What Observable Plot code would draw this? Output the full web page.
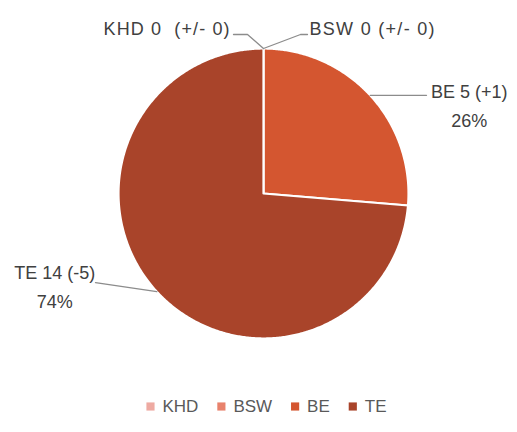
<!DOCTYPE html>
<html>
<head>
<meta charset="utf-8">
<script src="https://cdn.jsdelivr.net/npm/d3@7"></script>
<script src="https://cdn.jsdelivr.net/npm/@observablehq/plot@0.6"></script>
<style>
  html, body { margin: 0; padding: 0; background: #ffffff; }
  #chart svg { display: block; }
</style>
</head>
<body>
<div id="chart"></div>
<script>
// ---- data ----
const categories = ["KHD", "BSW", "BE", "TE"];
const values = [0, 0, 5, 14];
const changes = ["+/- 0", "+/- 0", "+1", "-5"];
const palette = ["#EEAAA2", "#E8826C", "#D45630", "#A9442A"];

// ---- layout ----
const W = 517, H = 432;
const cx = 263, cy = 193, R = 145;
const FONT = "Liberation Sans, Arial, Helvetica, sans-serif";

const total = d3.sum(values);
const pie = d3.pie().sort(null).value(d => d.value);
const rows = categories.map((c, i) => ({category: c, value: values[i], change: changes[i]}));
const arcs = pie(rows);

// slice outlines (polygon points along arc), computed from the pie angles
const slicePts = [];
arcs.forEach(a => {
  const c = a.data.category;
  slicePts.push({category: c, x: cx, y: cy});
  const n = Math.max(1, Math.ceil((a.endAngle - a.startAngle) / (Math.PI / 360)));
  for (let k = 0; k <= n; k++) {
    const t = a.startAngle + (a.endAngle - a.startAngle) * k / n;
    slicePts.push({category: c, x: cx + R * Math.sin(t), y: cy - R * Math.cos(t)});
  }
  slicePts.push({category: c, x: cx, y: cy});
});

// label text
function labelText(d) {
  return d.category + " " + d.value + (d.category === "KHD" ? "  " : " ") + "(" + d.change + ")";
}
function pct(d) { return Math.round(d.value / total * 100) + "%"; }

// label placement: leader lines start at slice mid-angle on the rim
const labelLayout = {
  KHD: {elbow: [-16, -14], end: [-30, -14], anchor: "end", tx: -34, ty: -19, len: 126},
  BSW: {elbow: [37, -14], end: [44, -14], anchor: "start", tx: 46, ty: -19, len: 125},
  BE:  {elbow: null, endX: 426, anchor: "middle", tx: 99, ty: -3},
  TE:  {elbow: null, endX: 95, endDy: -9, anchor: "middle", tx: -102, ty: -18}
};
const leaderPts = [], labels = [];
arcs.forEach(a => {
  const d = a.data;
  const mid = (a.startAngle + a.endAngle) / 2;
  const px = cx + R * Math.sin(mid), py = cy - R * Math.cos(mid);
  const L = labelLayout[d.category];
  leaderPts.push({category: d.category, x: px, y: py});
  let ex, ey;
  if (L.elbow) {
    leaderPts.push({category: d.category, x: px + L.elbow[0], y: py + L.elbow[1]});
    ex = px + L.end[0]; ey = py + L.end[1];
  } else {
    ex = L.endX; ey = py + (L.endDy || 0);
  }
  leaderPts.push({category: d.category, x: ex, y: ey});
  const lx = px + L.tx, ly = py + L.ty;
  labels.push({x: lx, y: ly, text: labelText(d), anchor: L.anchor, len: L.len});
  if (d.value > 0) labels.push({x: lx, y: ly + 29, text: pct(d), anchor: L.anchor});
});

// legend: measure text widths to lay items out, centered
const ctx = document.createElement("canvas").getContext("2d");
ctx.font = "17px " + FONT;
const sq = 8, gapText = 8, gapItem = 19;
const widths = categories.map(c => ctx.measureText(c).width);
const totalW = d3.sum(widths.map(w => sq + gapText + w)) + gapItem * (categories.length - 1);
let xx = 266 - totalW / 2;
const legendY = 406;
const legend = categories.map((c, i) => {
  const item = {category: c, sx: xx + sq / 2, tx: xx + sq + gapText, y: legendY};
  xx += sq + gapText + widths[i] + gapItem;
  return item;
});

const labelMark = anchor => Plot.text(labels.filter(l => l.anchor === anchor),
  {x: "x", y: "y", text: "text", textAnchor: anchor, fill: "#404040", fontSize: 18, lineAnchor: "middle"});

const chart = Plot.plot({
  width: W,
  height: H,
  margin: 0,
  x: {domain: [0, W], range: [0, W], axis: null},
  y: {domain: [0, H], range: [0, H], axis: null},
  color: {domain: categories, range: palette},
  style: {fontFamily: FONT, background: "#ffffff"},
  marks: [
    Plot.line(slicePts, {x: "x", y: "y", z: "category", fill: "category", stroke: "#ffffff", strokeWidth: 2.2, strokeLinejoin: "round"}),
    Plot.line(leaderPts, {x: "x", y: "y", z: "category", stroke: "#8c8c8c", strokeWidth: 1.3}),
    labelMark("start"),
    labelMark("middle"),
    labelMark("end"),
    Plot.dot(legend, {x: "sx", y: "y", symbol: "square", r: 4.6, fill: "category", stroke: null}),
    Plot.text(legend, {x: "tx", y: "y", text: "category", textAnchor: "start", fill: "#595959", fontSize: 17, lineAnchor: "middle"})
  ]
});
// widen the spacing of the two zero-value labels to match the reference's wider typeface
const lens = new Map(labels.filter(l => l.len).map(l => [l.text, l.len]));
d3.select(chart).selectAll("text").each(function() {
  const t = this.textContent;
  if (lens.has(t)) {
    this.setAttribute("textLength", lens.get(t));
    this.setAttribute("lengthAdjust", "spacing");
  }
});
document.getElementById("chart").appendChild(chart);
</script>
</body>
</html>
